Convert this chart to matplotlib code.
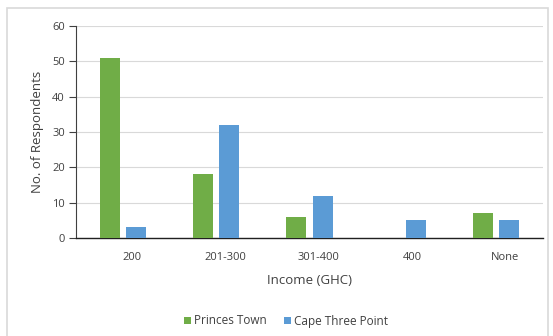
import numpy as np
import matplotlib.pyplot as plt
import matplotlib.transforms as mtransforms
from matplotlib.patches import Rectangle

# Income categories and respondent counts per community
categories = ["200", "201-300", "301-400", "400", "None"]
princes_town = [51, 18, 6, 0, 7]
cape_three_point = [3, 32, 12, 5, 5]
y_ticks = [0, 10, 20, 30, 40, 50, 60]

GREEN = "#70AD47"
BLUE = "#5B9BD5"
TEXT = "#404040"

plt.rcParams["font.family"] = ["Open Sans", "DejaVu Sans"]

fig = plt.figure(figsize=(5.53, 3.36), dpi=100)
# light chart-area border (runs off the bottom edge like the source)
fig.patches.append(Rectangle((7 / 553, -0.05), 541 / 553, 1.05 - 8 / 336,
                             transform=fig.transFigure, fill=False,
                             edgecolor="#d9d9d9", linewidth=1.2))

ax = fig.add_axes([76 / 553, 1 - 238 / 336, 467 / 553, 212 / 336])

x = np.arange(len(categories))
width = 0.215
ax.bar(x - 0.14, princes_town, width, color=GREEN, label="Princes Town", zorder=3)
ax.bar(x + 0.14, cape_three_point, width, color=BLUE, label="Cape Three Point", zorder=3)

ax.set_xlim(-0.5, len(categories) - 0.5)
ax.set_ylim(0, 60)
ax.set_yticks(y_ticks)
ax.set_xticks(x)
ax.set_xticklabels(categories)
ax.tick_params(axis="x", length=0, pad=10, labelsize=8, colors=TEXT)
ax.tick_params(axis="y", length=5, width=0.8, pad=3, labelsize=8, colors=TEXT)
ax.grid(axis="y", color="#d9d9d9", linewidth=0.8, zorder=0)

# category labels sit a little right of the bar groups in the source
shift = mtransforms.ScaledTranslation(9 / 100, 0, fig.dpi_scale_trans)
for lbl in ax.get_xticklabels():
    lbl.set_transform(lbl.get_transform() + shift)

for side in ["top", "right"]:
    ax.spines[side].set_visible(False)
ax.spines["left"].set_color(TEXT)
ax.spines["bottom"].set_color("#202020")
ax.spines["left"].set_linewidth(0.8)
ax.spines["bottom"].set_linewidth(1.0)

ax.set_xlabel("Income (GHC)", fontsize=9.5, color=TEXT, labelpad=8)
ax.set_ylabel("No. of Respondents", fontsize=9.5, color=TEXT, labelpad=6)

fig.legend(loc="center", bbox_to_anchor=(286 / 553, 1 - 321 / 336), ncol=2,
           frameon=False, fontsize=8.5, handlelength=0.6, handleheight=0.6,
           handletextpad=0.3, columnspacing=1.4, labelcolor=TEXT)

fig.savefig("out.png", dpi=100)
